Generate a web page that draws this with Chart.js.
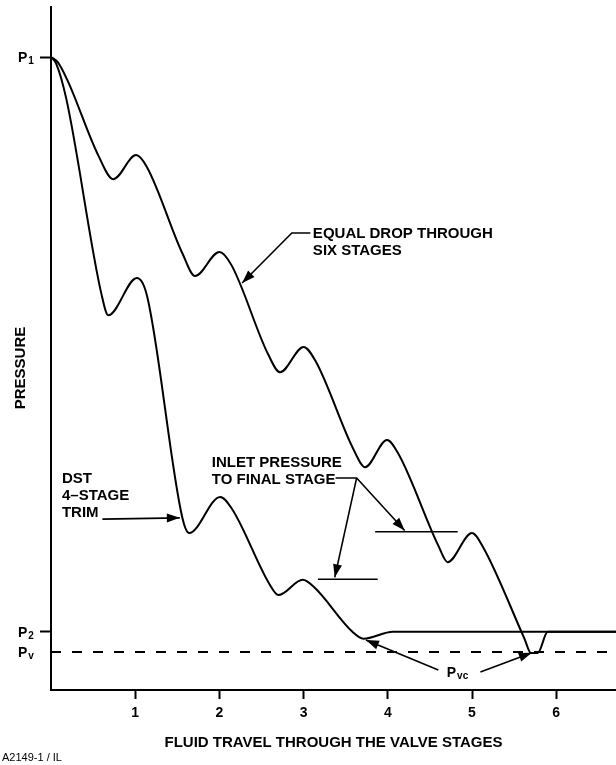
<!DOCTYPE html>
<html>
<head>
<meta charset="utf-8">
<script src="https://cdn.jsdelivr.net/npm/chart.js@4.4.0/dist/chart.umd.min.js"></script>
<style>
  html, body { margin: 0; padding: 0; background: #fff; }
</style>
</head>
<body>
<canvas id="chart" width="616" height="765"></canvas>
<script>
// pressure levels (arbitrary units, axis bottom = 0)
const P1 = 100;
const P2 = 9.2;
const PV = 6.0;
const X_MAX = 6.71;
const Y_MAX = 107.9;

const stageTicks = [1, 2, 3, 4, 5, 6];

// equal drop through six stages
const sixStageX = [0, 0.08, 0.2, 0.56, 0.74, 1.01, 1.14, 1.56, 1.71, 2.0, 2.14, 2.58, 2.72, 3.0, 3.14, 3.6, 3.73, 3.99, 4.13, 4.6, 4.71, 5.0, 5.13, 5.62, 5.70, 5.78, 5.9, 6.71];
const sixStageY = [100, 99.2, 96.2, 84.5, 80.7, 84.5, 82.6, 69.0, 65.4, 69.2, 67.2, 53.0, 50.2, 54.2, 52.0, 37.8, 35.2, 39.5, 37.2, 22.8, 20.2, 24.8, 22.6, 8.2, 5.85, 5.85, 9.2, 9.2];

// DST 4-stage trim
const fourStageX = [0, 0.06, 0.18, 0.6, 0.68, 1.02, 1.14, 1.56, 1.64, 2.01, 2.15, 2.6, 2.7, 2.99, 3.12, 3.58, 3.71, 4.06, 6.71];
const fourStageY = [100, 99.0, 93.5, 62.5, 59.2, 65.1, 62.3, 27.2, 24.8, 30.5, 28.6, 16.6, 15.0, 17.4, 16.3, 9.2, 8.1, 9.2, 9.2];

// inlet pressure to final stage
const finalInletSixX = [3.85, 4.83];
const finalInletSixY = [25.0, 25.0];
const finalInletFourX = [3.17, 3.88];
const finalInletFourY = [17.5, 17.5];

const FONT = '"Liberation Sans", Arial, Helvetica, sans-serif';

function pts(xs, ys) {
  return xs.map((x, i) => ({ x: x, y: ys[i] }));
}

// callouts, in data units
const callouts = [
  { lines: ['EQUAL DROP THROUGH', 'SIX STAGES'], x: 3.11, y: 72.1,
    arrows: [[[3.08, 72.2], [2.86, 72.2], [2.27, 64.3]]] },
  { lines: ['DST', '4\u2013STAGE', 'TRIM'], x: 0.13, y: 33.3,
    arrows: [[[0.61, 27.0], [1.53, 27.2]]] },
  { lines: ['INLET PRESSURE', 'TO FINAL STAGE'], x: 1.91, y: 35.9,
    arrows: [[[3.38, 33.5], [3.63, 33.5], [4.20, 25.2]], [[3.63, 33.5], [3.37, 17.8]]] },
];
const pvcArrows = [[[4.60, 3.16], [3.74, 7.9]], [[5.10, 2.84], [5.71, 5.9]]];

function drawArrow(ctx, xs, ys, path) {
  const p = path.map(q => [xs.getPixelForValue(q[0]), ys.getPixelForValue(q[1])]);
  ctx.beginPath();
  ctx.moveTo(p[0][0], p[0][1]);
  for (let i = 1; i < p.length; i++) ctx.lineTo(p[i][0], p[i][1]);
  ctx.stroke();
  const a = p[p.length - 2], b = p[p.length - 1];
  const ang = Math.atan2(b[1] - a[1], b[0] - a[0]);
  const len = 13, w = 4.5;
  ctx.beginPath();
  ctx.moveTo(b[0], b[1]);
  ctx.lineTo(b[0] - len * Math.cos(ang) + w * Math.sin(ang), b[1] - len * Math.sin(ang) - w * Math.cos(ang));
  ctx.lineTo(b[0] - len * Math.cos(ang) - w * Math.sin(ang), b[1] - len * Math.sin(ang) + w * Math.cos(ang));
  ctx.closePath();
  ctx.fill();
}

function drawSub(ctx, main, sub, left, base) {
  ctx.textBaseline = 'alphabetic';
  ctx.textAlign = 'left';
  ctx.font = 'bold 14px ' + FONT;
  ctx.fillText(main, left, base);
  const w = ctx.measureText(main).width;
  ctx.font = 'bold 10px ' + FONT;
  ctx.fillText(sub, left + w + 1, base + 2);
}

const annotate = {
  id: 'annotate',
  afterDraw(chart) {
    const ctx = chart.ctx;
    const xs = chart.scales.x, ys = chart.scales.y;
    ctx.save();
    ctx.fillStyle = '#000';
    ctx.strokeStyle = '#000';
    ctx.lineWidth = 1.6;

    // pressure labels on the y axis
    drawSub(ctx, 'P', '1', 18, ys.getPixelForValue(P1) + 5);
    drawSub(ctx, 'P', '2', 18, ys.getPixelForValue(P2) + 5);
    drawSub(ctx, 'P', 'v', 18, ys.getPixelForValue(PV) + 5);

    // y axis title
    ctx.save();
    ctx.translate(21, 368);
    ctx.rotate(-Math.PI / 2);
    ctx.font = 'bold 15px ' + FONT;
    ctx.textAlign = 'center';
    ctx.textBaseline = 'middle';
    ctx.fillText('PRESSURE', 0, 0);
    ctx.restore();

    // callouts
    callouts.forEach(c => {
      ctx.font = 'bold 15px ' + FONT;
      ctx.textAlign = 'left';
      ctx.textBaseline = 'middle';
      const left = xs.getPixelForValue(c.x);
      const top = ys.getPixelForValue(c.y);
      c.lines.forEach((t, i) => ctx.fillText(t, left, top + i * 16.8));
      c.arrows.forEach(a => drawArrow(ctx, xs, ys, a));
    });

    drawSub(ctx, 'P', 'vc', xs.getPixelForValue(4.70), ys.getPixelForValue(2.9) + 5);
    pvcArrows.forEach(a => drawArrow(ctx, xs, ys, a));

    ctx.font = '11px ' + FONT;
    ctx.textAlign = 'left';
    ctx.textBaseline = 'middle';
    ctx.fillText('A2149-1 / IL', 2, 758);
    ctx.restore();
  }
};

const curve = {
  borderColor: '#000',
  borderWidth: 2,
  pointRadius: 0,
  cubicInterpolationMode: 'monotone',
  fill: false,
};

new Chart(document.getElementById('chart').getContext('2d'), {
  type: 'line',
  data: {
    datasets: [
      Object.assign({ label: 'Six stages', data: pts(sixStageX, sixStageY) }, curve),
      Object.assign({ label: 'DST 4-stage', data: pts(fourStageX, fourStageY) }, curve),
      { label: 'Pv', data: pts([0, X_MAX], [PV, PV]), borderColor: '#000', borderWidth: 2, borderDash: [10, 11], pointRadius: 0 },
      { label: 'Final inlet six', data: pts(finalInletSixX, finalInletSixY), borderColor: '#000', borderWidth: 1.4, pointRadius: 0 },
      { label: 'Final inlet four', data: pts(finalInletFourX, finalInletFourY), borderColor: '#000', borderWidth: 1.4, pointRadius: 0 },
    ],
  },
  options: {
    responsive: false,
    animation: false,
    layout: { padding: { top: 7, right: 0, left: 0, bottom: 0 } },
    plugins: { legend: { display: false }, tooltip: { enabled: false } },
    scales: {
      x: {
        type: 'linear',
        min: 0,
        max: X_MAX,
        afterBuildTicks(scale) { scale.ticks = stageTicks.map(v => ({ value: v })); },
        afterFit(scale) { scale.height = 75; },
        border: { display: true, color: '#000', width: 2 },
        grid: { display: true, drawOnChartArea: false, drawTicks: true, tickLength: 9, tickWidth: 2, tickColor: '#000' },
        ticks: { color: '#000', font: { family: FONT, size: 14, weight: 'bold' }, padding: 6, callback: v => String(v) },
        title: {
          display: true,
          text: 'FLUID TRAVEL THROUGH THE VALVE STAGES',
          color: '#000',
          font: { family: FONT, size: 15, weight: 'bold' },
          padding: { top: 0, bottom: 13 },
        },
      },
      y: {
        type: 'linear',
        min: 0,
        max: Y_MAX,
        afterBuildTicks(scale) { scale.ticks = [PV, P2, P1].map(v => ({ value: v })); },
        afterFit(scale) { scale.width = 51; },
        border: { display: true, color: '#000', width: 2 },
        grid: {
          display: true, drawOnChartArea: false, drawTicks: true, tickLength: 11, tickWidth: 2,
          tickColor: c => (c.tick && c.tick.value === PV ? 'rgba(0,0,0,0)' : '#000'),
        },
        ticks: { display: false },
      },
    },
  },
  plugins: [annotate],
});
</script>
</body>
</html>
